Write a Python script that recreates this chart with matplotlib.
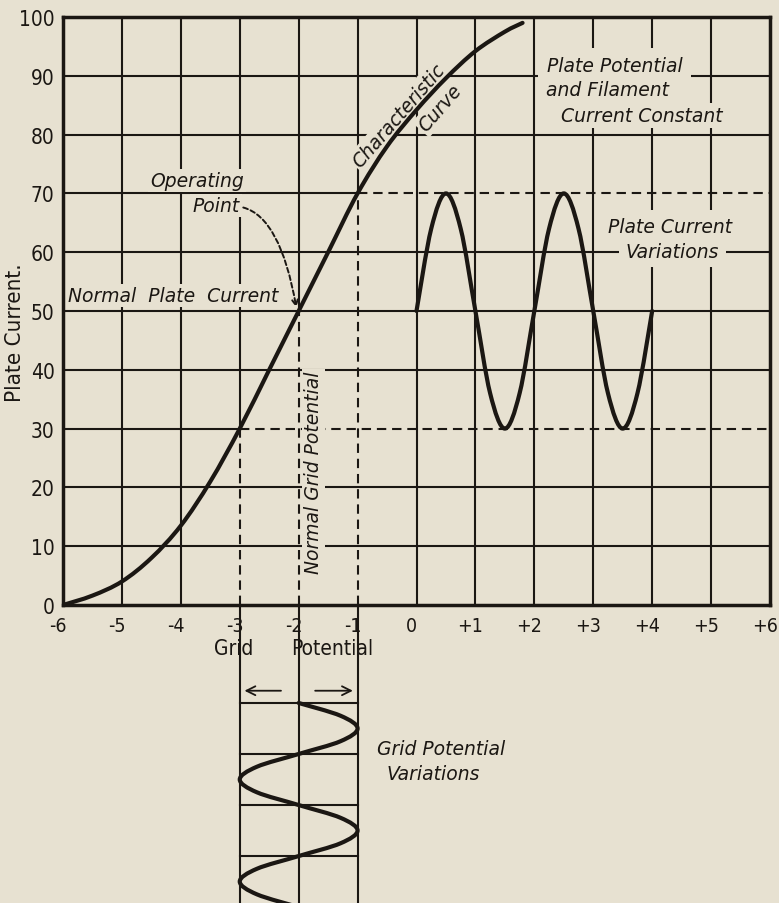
import numpy as np
import matplotlib
matplotlib.use("Agg")
import matplotlib.pyplot as plt
import matplotlib.transforms as mtransforms
from matplotlib.path import Path
from matplotlib.patches import PathPatch

# ---------------- data ----------------
x_ticks = [-6, -5, -4, -3, -2, -1, 0, 1, 2, 3, 4, 5, 6]
x_tick_labels = ["-6", "-5", "-4", "-3", "-2", "-1", "0", "+1", "+2", "+3", "+4", "+5", "+6"]
y_ticks = [0, 10, 20, 30, 40, 50, 60, 70, 80, 90, 100]
y_tick_labels = ["0", "10", "20", "30", "40", "50", "60", "70", "80", "90", "100"]

# characteristic curve (grid potential, plate current)
char_grid = [-6.0, -5.5, -5.0, -4.5, -4.0, -3.5, -3.0, -2.5, -2.0, -1.5, -1.0, -0.5, 0.0, 0.5, 1.0, 1.5, 1.8]
char_plate = [0.0, 1.6, 4.0, 8.0, 13.5, 21.0, 30.0, 40.0, 50.0, 60.0, 70.0, 78.0, 84.2, 89.6, 94.2, 97.5, 99.0]

# plate current variations
plate_x = [0.0, 0.25, 0.5, 0.75, 1.0, 1.25, 1.5, 1.75, 2.0, 2.25, 2.5, 2.75, 3.0, 3.25, 3.5, 3.75, 4.0]
plate_i = [50, 64, 70, 64, 50, 36, 30, 36, 50, 64, 70, 64, 50, 36, 30, 36, 50]

# grid potential variations (time steps downwards, grid potential)
grid_t = [0.0, 0.25, 0.5, 0.75, 1.0, 1.25, 1.5, 1.75, 2.0, 2.25, 2.5, 2.75, 3.0, 3.25, 3.5, 3.75, 4.0]
grid_v = [-2.0, -1.29, -1.0, -1.29, -2.0, -2.71, -3.0, -2.71, -2.0, -1.29, -1.0, -1.29, -2.0, -2.71, -3.0, -2.71, -2.0]

operating_point = (-2, 50)
max_point = (-1, 70)
min_point = (-3, 30)
grid_rows = [0, 1, 2, 3]

# ---------------- style ----------------
BG = "#e7e1d1"
INK = "#1b1713"
ITFONT = ["DejaVu Sans"]

plt.rcParams["font.family"] = ["DejaVu Sans"]
plt.rcParams["font.stretch"] = "condensed"


def smooth(ax, xs, ys, lw, **kw):
    pts = np.column_stack([xs, ys]).astype(float)
    ext = np.vstack([pts[0], pts, pts[-1]])
    verts = [pts[0]]
    codes = [Path.MOVETO]
    for i in range(1, len(ext) - 2):
        p0, p1, p2, p3 = ext[i - 1], ext[i], ext[i + 1], ext[i + 2]
        c1 = p1 + (p2 - p0) / 6.0
        c2 = p2 - (p3 - p1) / 6.0
        verts += [c1, c2, p2]
        codes += [Path.CURVE4] * 3
    patch = PathPatch(Path(verts, codes), facecolor="none", edgecolor=INK,
                      lw=lw, capstyle="round", joinstyle="round", **kw)
    ax.add_patch(patch)


fig = plt.figure(figsize=(7.79, 9.04), dpi=100, facecolor=BG)
W, H = 779.0, 904.0
L, R, T, B = 63, 770, 18, 606
ax = fig.add_axes([L / W, (H - B) / H, (R - L) / W, (B - T) / H])
ax.set_facecolor(BG)
ax.set_xlim(-6, 6)
ax.set_ylim(0, 100)

glw = 1.5
dash = (0, (4.5, 2.8))
# vertical grid lines
for xv in x_ticks[1:-1]:
    split = None
    for p in (min_point, operating_point, max_point):
        if xv == p[0]:
            split = p[1]
    if split is None:
        ax.plot([xv, xv], [0, 100], color=INK, lw=glw, zorder=1)
    else:
        ax.plot([xv, xv], [split, 100], color=INK, lw=glw, zorder=1)
        ax.plot([xv, xv], [0, split], color=INK, lw=glw, ls=dash, zorder=1)
# horizontal grid lines
for yv in y_ticks[1:-1]:
    split = None
    for p in (min_point, max_point):
        if yv == p[1]:
            split = p[0]
    if split is None:
        ax.plot([-6, 6], [yv, yv], color=INK, lw=glw, zorder=1)
    else:
        ax.plot([-6, split], [yv, yv], color=INK, lw=glw, zorder=1)
        ax.plot([split, 6], [yv, yv], color=INK, lw=glw, ls=dash, zorder=1)

for s in ax.spines.values():
    s.set_linewidth(2.5)
    s.set_color(INK)

ax.set_xticks(x_ticks)
ax.set_xticklabels(x_tick_labels)
ax.set_yticks(y_ticks)
ax.set_yticklabels(y_tick_labels)
ax.tick_params(axis="both", length=0, colors=INK)
ax.tick_params(axis="x", pad=8, labelsize=14)
ax.tick_params(axis="y", pad=6, labelsize=15)
shift = mtransforms.ScaledTranslation(-5 / 100.0, 0, fig.dpi_scale_trans)
for lab in ax.get_xticklabels():
    lab.set_transform(lab.get_transform() + shift)
ax.set_ylabel("Plate Current.", fontsize=16, color=INK)
ax.yaxis.set_label_coords(-0.054, 0.464)

# curves
smooth(ax, char_grid, char_plate, 3.0, zorder=4)
smooth(ax, plate_x, plate_i, 3.0, zorder=4)

# annotations: background boxes first, then the lettering
itkw = dict(family=ITFONT, style="italic", stretch="normal", fontsize=13.5)

items = []
items.append((ax, -3.72, 72.2, "Operating", 1.5, {}))
items.append((ax, -3.40, 67.9, "Point", 1.5, {}))
items.append((ax, -5.92, 52.7, "Normal  Plate  Current", 1.5, {"ha": "left"}))
items.append((ax, -0.30, 83.3, "Characteristic", 1.5, {"rotation": 49, "rotation_mode": "anchor"}))
items.append((ax, 0.40, 84.6, "Curve", 1.5, {"rotation": 49, "rotation_mode": "anchor"}))
items.append((ax, 3.37, 91.7, "Plate Potential", 6, {}))
items.append((ax, 3.24, 87.7, "and Filament", 6, {}))
items.append((ax, 3.83, 83.2, "Current Constant", 2, {}))
items.append((ax, 4.31, 64.4, "Plate Current", 5, {}))
items.append((ax, 4.34, 60.2, "Variations", 5, {}))
items.append((ax, -1.755, 22.6, "Normal Grid Potential", 1.5, {"rotation": 90}))
for axx, x, y, s, pad, kw in items:
    ha = kw.get("ha", "center")
    rest = {k: v for k, v in kw.items() if k != "ha"}
    axx.text(x, y, s, ha=ha, va="center", color=BG, zorder=2,
             bbox=dict(facecolor=BG, edgecolor="none", pad=pad), **rest, **itkw)
for axx, x, y, s, pad, kw in items:
    ha = kw.get("ha", "center")
    rest = {k: v for k, v in kw.items() if k != "ha"}
    axx.text(x, y, s, ha=ha, va="center", color=INK, zorder=3, **rest, **itkw)

ax.annotate("", xy=(-2.04, 50.6), xytext=(-2.94, 67.6),
            arrowprops=dict(arrowstyle="->", color=INK, lw=1.4, ls=(0, (2.5, 1.5)),
                            connectionstyle="angle3,angleA=-15,angleB=-80",
                            shrinkA=0, shrinkB=0), zorder=3)

# ---------------- lower panel: grid potential variations ----------------
axb = fig.add_axes([L / W, 0, (R - L) / W, (H - B) / H])
axb.patch.set_visible(False)
axb.set_xlim(-6, 6)
axb.set_ylim(3.92, -1.92)
axb.axis("off")
for xv in [min_point[0], operating_point[0], max_point[0]]:
    axb.plot([xv, xv], [-1.92, 3.92], color=INK, lw=glw, zorder=2, clip_on=False)
for tv in grid_rows:
    axb.plot([min_point[0], max_point[0]], [tv, tv], color=INK, lw=glw, zorder=2)
smooth(axb, grid_v, grid_t, 3.0, zorder=4)
axb.annotate("", xy=(-2.92, -0.24), xytext=(-2.3, -0.24),
             arrowprops=dict(arrowstyle="->", color=INK, lw=1.3, shrinkA=0, shrinkB=0,
                             mutation_scale=16))
axb.annotate("", xy=(-1.08, -0.24), xytext=(-1.72, -0.24),
             arrowprops=dict(arrowstyle="->", color=INK, lw=1.3, shrinkA=0, shrinkB=0,
                             mutation_scale=16))
axb.text(-3.10, -1.08, "Grid", ha="center", va="center", fontsize=15, color=INK, zorder=1)
axb.text(-1.43, -1.08, "Potential", ha="center", va="center", fontsize=15, color=INK, zorder=1)
axb.text(0.42, 0.90, "Grid Potential", ha="center", va="center", color=INK, **itkw)
axb.text(0.28, 1.39, "Variations", ha="center", va="center", color=INK, **itkw)

fig.savefig("out.png", dpi=100, facecolor=BG)
